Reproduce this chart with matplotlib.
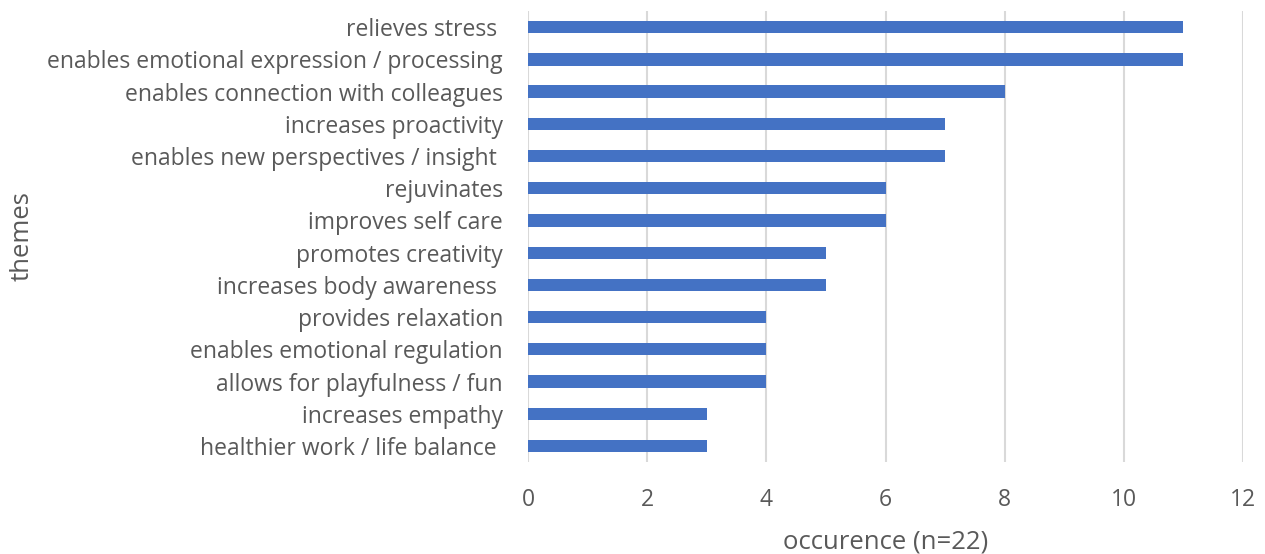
import matplotlib
matplotlib.use('Agg')
import matplotlib.pyplot as plt

themes = [
    'relieves stress ',
    'enables emotional expression / processing',
    'enables connection with colleagues',
    'increases proactivity',
    'enables new perspectives / insight ',
    'rejuvinates',
    'improves self care',
    'promotes creativity',
    'increases body awareness ',
    'provides relaxation',
    'enables emotional regulation',
    'allows for playfulness / fun',
    'increases empathy',
    'healthier work / life balance ',
]
occurence = [11, 11, 8, 7, 7, 6, 6, 5, 5, 4, 4, 4, 3, 3]
xticks = [0, 2, 4, 6, 8, 10, 12]

TEXT = '#595959'
plt.rcParams['font.family'] = ['Open Sans', 'DejaVu Sans']

fig = plt.figure(figsize=(12.65, 5.54), dpi=100)
ax = fig.add_axes([0.4174, 0.166, 0.5652, 0.814])

ypos = list(range(len(themes)))
ax.barh(ypos, occurence, height=0.38, color='#4472C4', zorder=3)
ax.set_ylim(len(themes) - 0.5, -0.5)
ax.set_xlim(0, 12)

ax.set_xticks(xticks)
ax.set_xticklabels([str(t) for t in xticks])
ax.set_yticks(ypos)
ax.set_yticklabels(themes)
ax.grid(axis='x', color='#D9D9D9', linewidth=1.5, zorder=0)
ax.tick_params(axis='x', length=0, pad=19, labelsize=16.5, labelcolor=TEXT)
ax.tick_params(axis='y', length=0, pad=18, labelsize=16.5, labelcolor=TEXT)
for s in ax.spines.values():
    s.set_visible(False)

ax.set_xlabel('occurence (n=22)', fontsize=18.5, color=TEXT, labelpad=12)
ax.set_ylabel('themes', fontsize=18.5, color=TEXT)
ax.yaxis.set_label_coords(-0.69, 0.5)

fig.savefig('out.png', dpi=100)
